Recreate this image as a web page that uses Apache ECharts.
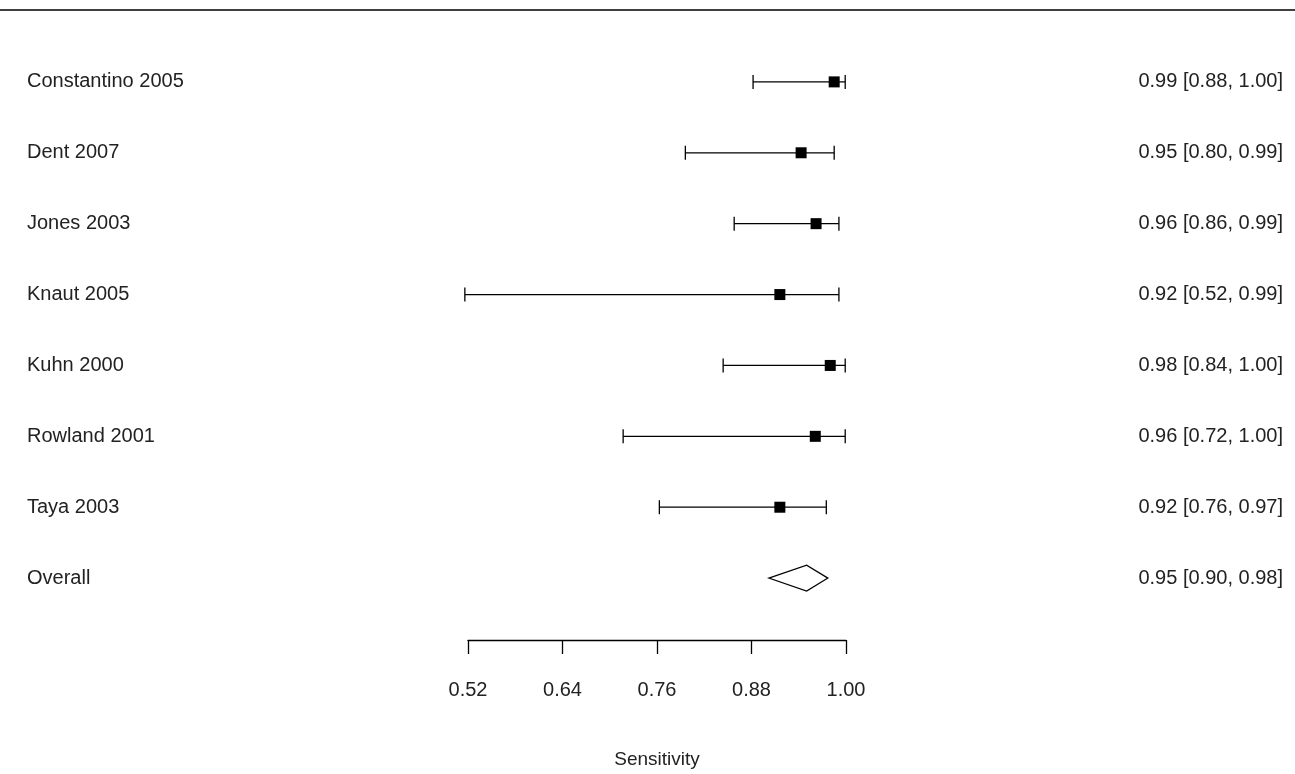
<!DOCTYPE html>
<html><head><meta charset="utf-8">
<script src="https://cdn.jsdelivr.net/npm/echarts@6/dist/echarts.min.js"></script>
<style>html,body{margin:0;background:#fff}#c{width:1295px;height:774px}</style>
</head><body><div id="c"></div>
<script>
var studies = ['Constantino 2005','Dent 2007','Jones 2003','Knaut 2005','Kuhn 2000','Rowland 2001','Taya 2003'];
var est   = [0.985, 0.943, 0.962, 0.916, 0.980, 0.961, 0.916];
var lower = [0.882, 0.796, 0.858, 0.516, 0.844, 0.717, 0.763];
var upper = [0.999, 0.985, 0.991, 0.991, 0.999, 0.999, 0.975];
var ciText = ['0.99 [0.88, 1.00]','0.95 [0.80, 0.99]','0.96 [0.86, 0.99]','0.92 [0.52, 0.99]','0.98 [0.84, 1.00]','0.96 [0.72, 1.00]','0.92 [0.76, 0.97]'];
var overall = {label:'Overall', est:0.95, lo:0.902, hi:0.977, text:'0.95 [0.90, 0.98]'};
var ticks = [0.52, 0.64, 0.76, 0.88, 1.00];

var font = 'Arial, "Liberation Sans", sans-serif';
var rows = studies.map(function(s, i){ return [i + 1, est[i], lower[i], upper[i]]; });

var chart = echarts.init(document.getElementById('c'));
chart.setOption({
  animation: false,
  grid: {left: 468, right: 449, top: 11, bottom: 133},
  xAxis: {
    type: 'value', min: 0.52, max: 1.0, position: 'bottom',
    axisLine: {show: true, onZero: false, lineStyle: {color: '#000', width: 1.3}},
    axisTick: {show: true, length: 14, customValues: ticks, lineStyle: {color: '#000', width: 1.3}},
    axisLabel: {customValues: ticks, margin: 40, fontSize: 20, color: '#222', fontFamily: font,
      formatter: function(v){ return v.toFixed(2); }},
    splitLine: {show: false},
    name: 'Sensitivity', nameLocation: 'middle', nameGap: 110,
    nameTextStyle: {fontSize: 19, color: '#222', fontFamily: font}
  },
  yAxis: {type: 'value', inverse: true, min: 0, max: 8.873, show: false},
  graphic: [{type: 'line', shape: {x1: 0, y1: 10, x2: 1295, y2: 10}, style: {stroke: '#000', lineWidth: 1.3}}],
  series: [{
    type: 'custom',
    data: rows,
    renderItem: function(params, api){
      var r = api.value(0);
      var p = api.coord([api.value(1), r]);
      var a = api.coord([api.value(2), r]);
      var b = api.coord([api.value(3), r]);
      var i = params.dataIndex;
      var st = {stroke: '#000', lineWidth: 1.3};
      return {type: 'group', children: [
        {type: 'line', shape: {x1: a[0], y1: p[1], x2: b[0], y2: p[1]}, style: st},
        {type: 'line', shape: {x1: a[0], y1: p[1]-7, x2: a[0], y2: p[1]+7}, style: st},
        {type: 'line', shape: {x1: b[0], y1: p[1]-7, x2: b[0], y2: p[1]+7}, style: st},
        {type: 'rect', shape: {x: p[0]-5.5, y: p[1]-5.5, width: 11, height: 11}, style: {fill: '#000'}},
        {type: 'text', x: 27, y: p[1], style: {text: studies[i], fontSize: 20, fontFamily: font, fill: '#222', verticalAlign: 'middle'}},
        {type: 'text', x: 1283, y: p[1], style: {text: ciText[i], fontSize: 20, fontFamily: font, fill: '#222', align: 'right', verticalAlign: 'middle'}}
      ]};
    }
  }, {
    type: 'custom',
    data: [[8, overall.est, overall.lo, overall.hi]],
    renderItem: function(params, api){
      var r = api.value(0);
      var p = api.coord([api.value(1), r]);
      var a = api.coord([api.value(2), r]);
      var b = api.coord([api.value(3), r]);
      return {type: 'group', children: [
        {type: 'polygon', shape: {points: [[a[0], p[1]], [p[0], p[1]-13], [b[0], p[1]], [p[0], p[1]+13]]},
          style: {fill: '#fff', stroke: '#000', lineWidth: 1.2}},
        {type: 'text', x: 27, y: p[1], style: {text: overall.label, fontSize: 20, fontFamily: font, fill: '#222', verticalAlign: 'middle'}},
        {type: 'text', x: 1283, y: p[1], style: {text: overall.text, fontSize: 20, fontFamily: font, fill: '#222', align: 'right', verticalAlign: 'middle'}}
      ]};
    }
  }]
});
</script>
</body></html>
